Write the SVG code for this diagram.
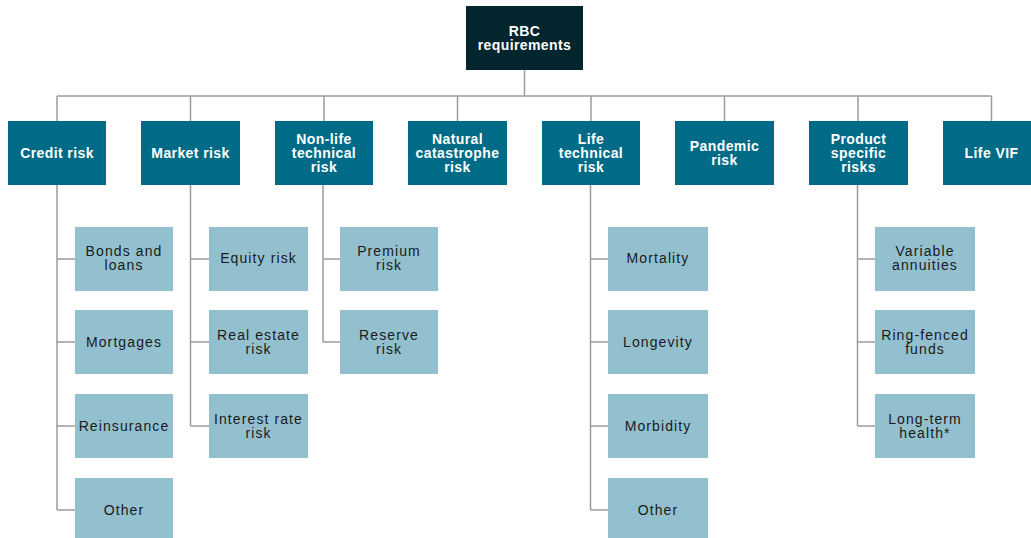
<svg xmlns="http://www.w3.org/2000/svg" width="1031" height="538" viewBox="0 0 1031 538">
<style>
.root{fill:#03252d}
.l1{fill:#006b87}
.l2{fill:#93c0cf}
.t1{font-family:"Liberation Sans",Arial,sans-serif;font-size:14px;font-weight:bold;fill:#ffffff;text-anchor:middle;letter-spacing:0.4px}
.t2{font-family:"Liberation Sans",Arial,sans-serif;font-size:14px;fill:#1a1a1a;text-anchor:middle;letter-spacing:1.1px}
.c{fill:none;stroke:#9c9c9c;stroke-width:1.5}
</style>
<rect width="1031" height="538" fill="#ffffff"/>
<g id="connectors">
<path class="c" d="M524.5 70 V96 M57 96 H991.5 M57 96 V121 M190.5 96 V121 M324 96 V121 M457.5 96 V121 M591 96 V121 M724.5 96 V121 M858 96 V121 M991.5 96 V121"/>
<path class="c" d="M57 185 V510 M57 259 H75 M57 342 H75 M57 426 H75 M57 510 H75"/>
<path class="c" d="M190.5 185 V426 M190.5 259 H209 M190.5 342 H209 M190.5 426 H209"/>
<path class="c" d="M323 185 V342 M323 259 H340 M323 342 H340"/>
<path class="c" d="M590.5 185 V510 M590.5 259 H608 M590.5 342 H608 M590.5 426 H608 M590.5 510 H608"/>
<path class="c" d="M857.5 185 V426 M857.5 259 H875 M857.5 342 H875 M857.5 426 H875"/>
</g>
<g id="rbc"><rect class="root" x="466" y="6" width="117" height="64"/><text class="t1" x="524.5" y="36">RBC</text><text class="t1" x="524.5" y="50">requirements</text></g>
<g id="credit"><rect class="l1" x="8" y="121" width="98" height="64"/><text class="t1" x="57" y="158">Credit risk</text></g>
<g id="market"><rect class="l1" x="141" y="121" width="99" height="64"/><text class="t1" x="190.5" y="158">Market risk</text></g>
<g id="nonlife"><rect class="l1" x="275" y="121" width="98" height="64"/><text class="t1" x="324" y="144">Non-life</text><text class="t1" x="324" y="158">technical</text><text class="t1" x="324" y="172">risk</text></g>
<g id="natcat"><rect class="l1" x="408" y="121" width="99" height="64"/><text class="t1" x="457.5" y="144">Natural</text><text class="t1" x="457.5" y="158">catastrophe</text><text class="t1" x="457.5" y="172">risk</text></g>
<g id="life"><rect class="l1" x="542" y="121" width="98" height="64"/><text class="t1" x="591" y="144">Life</text><text class="t1" x="591" y="158">technical</text><text class="t1" x="591" y="172">risk</text></g>
<g id="pandemic"><rect class="l1" x="675" y="121" width="99" height="64"/><text class="t1" x="724.5" y="151">Pandemic</text><text class="t1" x="724.5" y="165">risk</text></g>
<g id="product"><rect class="l1" x="809" y="121" width="99" height="64"/><text class="t1" x="858.5" y="144">Product</text><text class="t1" x="858.5" y="158">specific</text><text class="t1" x="858.5" y="172">risks</text></g>
<g id="lifevif"><rect class="l1" x="943" y="121" width="98" height="64"/><text class="t1" x="991.5" y="158">Life VIF</text></g>
<g id="bonds"><rect class="l2" x="75" y="227" width="98" height="64"/><text class="t2" x="124" y="256">Bonds and</text><text class="t2" x="124" y="270">loans</text></g>
<g id="mortgages"><rect class="l2" x="75" y="310" width="98" height="64"/><text class="t2" x="124" y="347">Mortgages</text></g>
<g id="reinsurance"><rect class="l2" x="75" y="394" width="98" height="64"/><text class="t2" x="124" y="431">Reinsurance</text></g>
<g id="other1"><rect class="l2" x="75" y="478" width="98" height="64"/><text class="t2" x="124" y="515">Other</text></g>
<g id="equity"><rect class="l2" x="209" y="227" width="99" height="64"/><text class="t2" x="258.5" y="263">Equity risk</text></g>
<g id="realestate"><rect class="l2" x="209" y="310" width="99" height="64"/><text class="t2" x="258.5" y="339.5">Real estate</text><text class="t2" x="258.5" y="353.5">risk</text></g>
<g id="interest"><rect class="l2" x="209" y="394" width="99" height="64"/><text class="t2" x="258.5" y="423.5">Interest rate</text><text class="t2" x="258.5" y="437.5">risk</text></g>
<g id="premium"><rect class="l2" x="340" y="227" width="98" height="64"/><text class="t2" x="389" y="256">Premium</text><text class="t2" x="389" y="270">risk</text></g>
<g id="reserve"><rect class="l2" x="340" y="310" width="98" height="64"/><text class="t2" x="389" y="339.5">Reserve</text><text class="t2" x="389" y="353.5">risk</text></g>
<g id="mortality"><rect class="l2" x="608" y="227" width="100" height="64"/><text class="t2" x="658" y="263">Mortality</text></g>
<g id="longevity"><rect class="l2" x="608" y="310" width="100" height="64"/><text class="t2" x="658" y="347">Longevity</text></g>
<g id="morbidity"><rect class="l2" x="608" y="394" width="100" height="64"/><text class="t2" x="658" y="431">Morbidity</text></g>
<g id="other2"><rect class="l2" x="608" y="478" width="100" height="64"/><text class="t2" x="658" y="515">Other</text></g>
<g id="variable"><rect class="l2" x="875" y="227" width="100" height="64"/><text class="t2" x="925" y="256">Variable</text><text class="t2" x="925" y="270">annuities</text></g>
<g id="ringfenced"><rect class="l2" x="875" y="310" width="100" height="64"/><text class="t2" x="925" y="339.5">Ring-fenced</text><text class="t2" x="925" y="353.5">funds</text></g>
<g id="longterm"><rect class="l2" x="875" y="394" width="100" height="64"/><text class="t2" x="925" y="423.5">Long-term</text><text class="t2" x="925" y="437.5">health*</text></g>
</svg>
